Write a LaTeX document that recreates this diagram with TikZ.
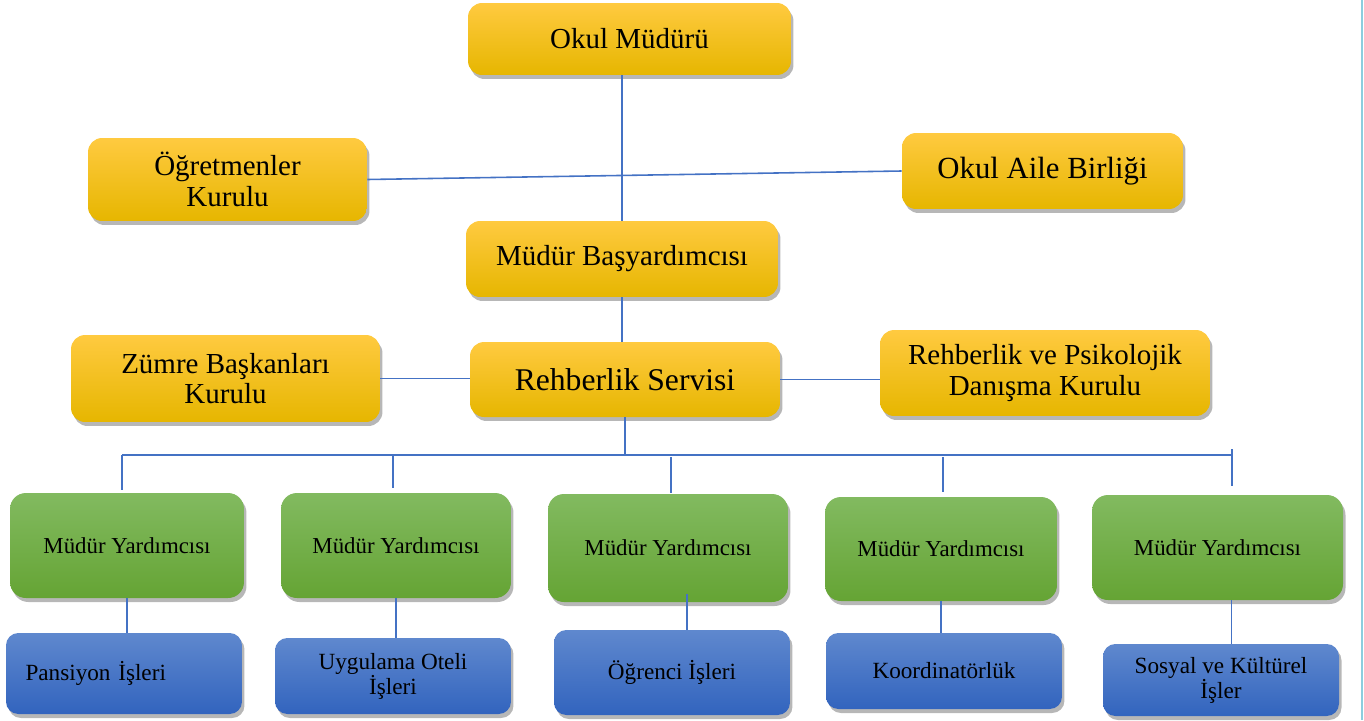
\documentclass[tikz,border=0pt]{standalone}
\usepackage{fontspec}
\setmainfont{Liberation Serif}
\usetikzlibrary{shadows}
\usetikzlibrary{calc}

\definecolor{linkblue}{RGB}{68,114,196}
\definecolor{edgecyan}{RGB}{140,205,222}
\definecolor{yelTop}{RGB}{255,202,64}
\definecolor{yelMid}{RGB}{255,195,0}
\definecolor{yelBot}{RGB}{230,182,0}
\definecolor{grnTop}{RGB}{130,186,96}
\definecolor{grnBot}{RGB}{101,164,52}
\definecolor{bluTop}{RGB}{95,136,206}
\definecolor{bluBot}{RGB}{50,100,190}

\begin{document}
\begin{tikzpicture}[x=0.02cm, y=-0.02cm,
    boxbase/.style={align=center, inner sep=0pt,
        drop shadow={shadow xshift=0.5mm, shadow yshift=-0.8mm, opacity=0.4, fill=black!70}},
    yellowbox/.style={boxbase, rounded corners=8pt, top color=yelTop, middle color=yelMid, bottom color=yelBot,
        font=\fontsize{16.5}{17.5}\selectfont},
    greenbox/.style={boxbase, rounded corners=9pt, top color=grnTop, bottom color=grnBot,
        minimum width=4.64cm, minimum height=2.1cm, font=\fontsize{13}{14}\selectfont},
    bluebox/.style={boxbase, rounded corners=7pt, top color=bluTop, bottom color=bluBot,
        minimum width=4.72cm, minimum height=1.52cm, font=\fontsize{13.2}{14.2}\selectfont},
    link/.style={draw=linkblue, line width=0.9pt}]
    % --- Frame ---
    \useasboundingbox (0,0) rectangle (1364,720);
    \draw[edgecyan, line width=1.2pt] (1362,0) -- (1362,720);

    % --- Management (yellow) ---
    \node[yellowbox, minimum width=6.46cm, minimum height=1.44cm] (mudur) at (629.5,39) {Okul Müdürü};
    \node[yellowbox, minimum width=5.58cm, minimum height=1.66cm] (ogretmen) at (227.5,179.5) {Öğretmenler\\Kurulu};
    \node[yellowbox, minimum width=5.62cm, minimum height=1.52cm, font=\fontsize{17.5}{18.5}\selectfont] (aile) at (1042.5,171) {Okul Aile Birliği};
    \node[yellowbox, minimum width=6.24cm, minimum height=1.52cm] (basyard) at (622,259) {Müdür Başyardımcısı};
    \node[yellowbox, minimum width=6.18cm, minimum height=1.74cm] (zumre) at (225.5,378.5) {Zümre Başkanları\\Kurulu};
    \node[yellowbox, minimum width=6.2cm, minimum height=1.5cm, font=\fontsize{18}{19}\selectfont] (rehber) at (625,379.5) {Rehberlik Servisi};
    \node[yellowbox, minimum width=6.6cm, minimum height=1.72cm] (rpdk) at (1045,373) {Rehberlik ve Psikolojik\\Danışma Kurulu};

    % --- Assistant principals (green) ---
    \node[greenbox, minimum width=4.68cm] (yard1) at (127,545.5) {Müdür Yardımcısı};
    \node[greenbox, minimum width=4.6cm] (yard2) at (396,545.5) {Müdür Yardımcısı};
    \node[greenbox, minimum width=4.8cm, minimum height=2.16cm] (yard3) at (668,548) {Müdür Yardımcısı};
    \node[greenbox, minimum height=2.08cm] (yard4) at (941,549) {Müdür Yardımcısı};
    \node[greenbox, minimum width=5.02cm] (yard5) at (1217.5,547.5) {Müdür Yardımcısı};

    % --- Departments (blue) ---
    \node[bluebox, minimum height=1.62cm, text width=3.94cm, inner xsep=0.39cm, align=left] (pansiyon) at (124,673.5) {Pansiyon İşleri};
    \node[bluebox] (otel) at (393,676) {Uygulama Oteli\\İşleri};
    \node[bluebox, minimum height=1.7cm] (ogrenci) at (672,672.5) {Öğrenci İşleri};
    \node[bluebox] (koord) at (944,671) {Koordinatörlük};
    \node[bluebox, minimum height=1.44cm, text depth=2pt] (sosyal) at (1221,680) {Sosyal ve Kültürel\\İşler};

    % --- Connectors ---
    \draw[link] (basyard.north |- mudur.south) -- (basyard.north);
    \draw[link] (ogretmen.east) -- (aile.west);
    \draw[link] (basyard.south) -- (basyard.south |- rehber.north);
    \draw[link] (zumre.east) -- (zumre.east -| rehber.west);
    \draw[link] (rehber.east) -- (rehber.east -| rpdk.west);

    % bus to the assistant principals
    \coordinate (busL) at (122,455);
    \coordinate (busR) at (1232,455);
    \draw[link] (rehber.south) -- (rehber.south |- busL);
    \draw[link] (busL) -- (busR);
    \draw[link] (busL) -- ++(0,35);
    \draw[link] (393,455) -- ++(0,33);
    \draw[link] (671,457) -- ++(0,36);
    \draw[link] (943,457) -- ++(0,35);
    \draw[link] (1232,449) -- ++(0,37);

    % assistant principals to departments
    \coordinate (drop3) at ($(yard3.south)+(19,-8)$);
    \coordinate (drop5) at ($(yard5.south)+(14,0)$);
    \draw[link] (pansiyon.north -| yard1.south) -- (yard1.south);
    \draw[link] (otel.north -| yard2.south) -- (yard2.south);
    \draw[link] (drop3) -- (drop3 |- ogrenci.north);
    \draw[link] (yard4.south) -- (yard4.south |- koord.north);
    \draw[link] (drop5) -- (drop5 |- sosyal.north);
\end{tikzpicture}
\end{document}
